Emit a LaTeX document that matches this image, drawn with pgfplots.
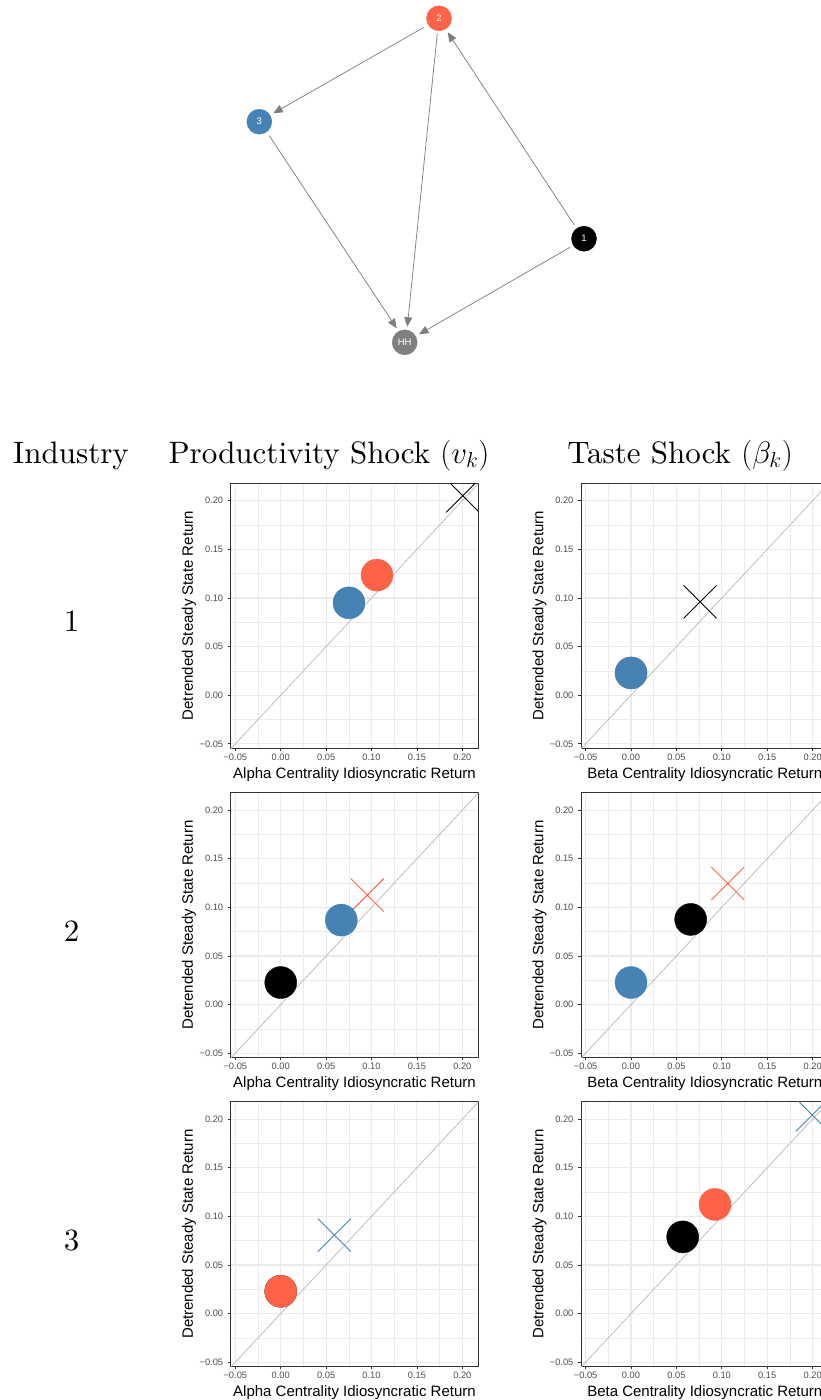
\RequirePackage{fix-cm}
\documentclass[border=0pt]{standalone}
\usepackage{fontspec}
\usepackage{pgfplots}
\pgfplotsset{compat=1.18}
\usetikzlibrary{arrows.meta}
\newfontfamily\lib{Liberation Sans}
\newfontfamily\lmten{lmroman10-regular}[Extension=.otf]
\definecolor{tomato}{HTML}{FF6347}
\definecolor{steel}{HTML}{4682B4}
\definecolor{grey92}{HTML}{EBEBEB}
\definecolor{grey20}{HTML}{333333}
\definecolor{grey30}{HTML}{4D4D4D}
\definecolor{diag}{HTML}{BEBEBE}
\definecolor{edgec}{HTML}{7F7F7F}
\pgfplotsset{
  panel/.style={
    scale only axis, width=247.6pt, height=264.7pt, anchor=north west,
    xmin=-0.0551, xmax=0.2176, ymin=-0.0543, ymax=0.2179,
    xtick={-0.05,0,0.05,0.1,0.15,0.2},
    ytick={-0.05,0,0.05,0.1,0.15,0.2},
    xticklabels={−0.05,0.00,0.05,0.10,0.15,0.20},
    yticklabels={−0.05,0.00,0.05,0.10,0.15,0.20},
    minor xtick={-0.025,0.025,0.075,0.125,0.175},
    minor ytick={-0.025,0.025,0.075,0.125,0.175},
    grid=both,
    major grid style={draw=grey92, line width=1.1pt},
    minor grid style={draw=grey92, line width=0.55pt},
    axis line style={draw=grey20, line width=0.9pt},
    tick align=outside, xtick pos=left, ytick pos=left,
    major tick length=2.75pt, minor tick length=0pt,
    tick style={draw=grey20, line width=0.8pt},
    tick label style={font=\lib\fontsize{9.3}{11}\selectfont, text=grey30},
    xticklabel style={anchor=north, inner sep=0pt, yshift=-2.55pt},
    yticklabel style={anchor=east, inner sep=0pt, xshift=-4.65pt},
    label style={font=\lib\fontsize{15}{18}\selectfont, text=black},
    xlabel style={at={(axis description cs:0.5,-0.1145)}, anchor=base},
    ylabel style={at={(axis description cs:-0.1523,0.5)}, anchor=base},
    ylabel={Detrended Steady State Return},
    clip marker paths=true,
  },
  circ/.style={only marks, mark=*, mark size=16, mark options={fill=#1, draw=#1}},
  crs/.style={only marks, mark=x, mark size=23.3, mark options={draw=#1, line width=0.9pt}},
  dg/.style={diag, line width=0.8pt},
  netnode/.style={only marks, mark=*, mark size=12.5, mark options={fill=#1, draw=#1},
    nodes near coords align=center,
    every node near coord/.append style={text=white, font=\lib\fontsize{9.5}{11}\selectfont}},
  netedge/.style={edgec, line width=0.75pt, -{Triangle[length=9.5pt,width=8pt]}},
}
\begin{document}
\begin{tikzpicture}
% network
\begin{axis}[at={(0pt,0pt)}, anchor=north west, scale only axis, width=821pt, height=400pt,
  xmin=0, xmax=821, ymin=0, ymax=400, y dir=reverse, hide axis, clip=false]
\addplot[netedge] coordinates {(424,27.3) (273.3,113.3)};
\addplot[netedge] coordinates {(437.3,33.3) (407.3,326.7)};
\addplot[netedge] coordinates {(574.3,225) (447.7,32.3)};
\addplot[netedge] coordinates {(570,247.3) (419,334.3)};
\addplot[netedge] coordinates {(269.3,135.7) (396.7,328.3)};
\addplot[netnode=tomato, nodes near coords={2}] coordinates {(439,18.3)};
\addplot[netnode=steel, nodes near coords={3}] coordinates {(259.3,121.7)};
\addplot[netnode=black, nodes near coords={1}] coordinates {(584,238.7)};
\addplot[netnode=edgec, nodes near coords={HH}] coordinates {(404.7,342.3)};
\end{axis}
% titles
\begin{scope}[every node/.style={font=\lmten\fontsize{31}{37}\selectfont, anchor=base, inner sep=0pt}]
\node at (71pt,-463.3pt) {Industry};
\node at (329pt,-463.3pt) {Productivity Shock $(v_k)$};
\node at (680pt,-463.3pt) {Taste Shock $(\beta_k)$};
\node at (71.7pt,-631pt) {1};
\node at (71.7pt,-941pt) {2};
\node at (71.7pt,-1250pt) {3};
\end{scope}
% row 1
\begin{axis}[panel, at={(230.7pt,-483.3pt)}, xlabel={Alpha Centrality Idiosyncratic Return}]
\addplot[dg] coordinates {(-0.1,-0.1) (0.3,0.3)};
\addplot[crs=black] coordinates {(0.2004,0.2051)};
\addplot[circ=steel] coordinates {(0.0752,0.0950)};
\addplot[circ=tomato] coordinates {(0.1060,0.1235)};
\end{axis}
\begin{axis}[panel, at={(581pt,-483.3pt)}, xlabel={Beta Centrality Idiosyncratic Return}]
\addplot[dg] coordinates {(-0.1,-0.1) (0.3,0.3)};
\addplot[crs=black] coordinates {(0.0760,0.0960)};
\addplot[circ=tomato] coordinates {(0,0.0229)};
\addplot[circ=steel] coordinates {(0,0.0229)};
\end{axis}
% row 2
\begin{axis}[panel, at={(230.7pt,-792.7pt)}, xlabel={Alpha Centrality Idiosyncratic Return}]
\addplot[dg] coordinates {(-0.1,-0.1) (0.3,0.3)};
\addplot[crs=tomato] coordinates {(0.0953,0.1126)};
\addplot[circ=black] coordinates {(0,0.0227)};
\addplot[circ=steel] coordinates {(0.0667,0.0869)};
\end{axis}
\begin{axis}[panel, at={(581pt,-792.7pt)}, xlabel={Beta Centrality Idiosyncratic Return}]
\addplot[dg] coordinates {(-0.1,-0.1) (0.3,0.3)};
\addplot[crs=tomato] coordinates {(0.1065,0.1246)};
\addplot[circ=steel] coordinates {(0,0.0227)};
\addplot[circ=black] coordinates {(0.0657,0.0876)};
\end{axis}
% row 3
\begin{axis}[panel, at={(230.7pt,-1101.7pt)}, xlabel={Alpha Centrality Idiosyncratic Return}]
\addplot[dg] coordinates {(-0.1,-0.1) (0.3,0.3)};
\addplot[crs=steel] coordinates {(0.0590,0.0807)};
\addplot[circ=black] coordinates {(0,0.0230)};
\addplot[circ=tomato] coordinates {(0,0.0230)};
\end{axis}
\begin{axis}[panel, at={(581pt,-1101.7pt)}, xlabel={Beta Centrality Idiosyncratic Return}]
\addplot[dg] coordinates {(-0.1,-0.1) (0.3,0.3)};
\addplot[crs=steel] coordinates {(0.1996,0.2042)};
\addplot[circ=black] coordinates {(0.0569,0.0789)};
\addplot[circ=tomato] coordinates {(0.0925,0.1123)};
\end{axis}
\pgfresetboundingbox
\path[use as bounding box] (0pt,0pt) rectangle (821pt,-1400pt);
\end{tikzpicture}
\end{document}
